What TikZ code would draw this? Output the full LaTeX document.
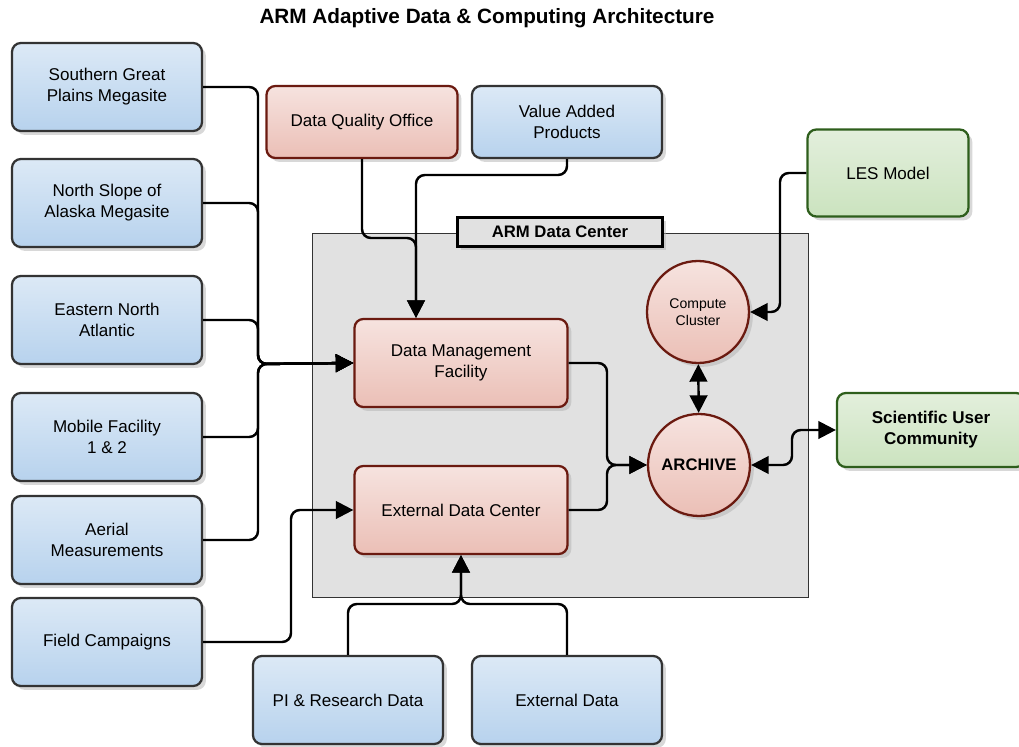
\documentclass[tikz,border=0pt]{standalone}
\usepackage{fontspec}
\setmainfont{Liberation Sans}
\usetikzlibrary{shadows,arrows.meta}
\definecolor{blueTop}{HTML}{DCE9F6}
\definecolor{blueBot}{HTML}{B7D2ED}
\definecolor{redTop}{HTML}{F6E3DF}
\definecolor{redBot}{HTML}{EBBFB6}
\definecolor{redLine}{HTML}{6B1A10}
\definecolor{greenTop}{HTML}{E3EFDC}
\definecolor{greenBot}{HTML}{CBE3BF}
\definecolor{greenLine}{HTML}{2E5E1C}
\definecolor{dcGray}{HTML}{E1E1E1}
\begin{document}
\begin{tikzpicture}[x=0.02cm,y=-0.02cm,
    every node/.style={font=\fontsize{9.7}{11.9}\selectfont,align=center,inner sep=2pt},
    box/.style={draw,line width=1.3pt,rounded corners=5pt,minimum width=3.8cm,minimum height=1.76cm,
        drop shadow={shadow xshift=2.2pt,shadow yshift=-2.2pt,fill=black!30}},
    sitebox/.style={box,draw=black!80,top color=blueTop,bottom color=blueBot},
    facbox/.style={box,draw=redLine,top color=redTop,bottom color=redBot},
    userbox/.style={box,draw=greenLine,top color=greenTop,bottom color=greenBot},
    facnode/.style={circle,draw=redLine,line width=1.3pt,top color=redTop,bottom color=redBot,minimum size=2.04cm,
        drop shadow={shadow xshift=2.2pt,shadow yshift=-2.2pt,fill=black!30}},
    link/.style={line width=1.4pt,rounded corners=5pt},
    arr/.style={link,-{Triangle[length=10pt,width=10pt]}},
    biarr/.style={link,{Triangle[length=10pt,width=10pt]}-{Triangle[length=10pt,width=10pt]}}]
\useasboundingbox (0,0) rectangle (1019,747);

\node[font=\bfseries\fontsize{11.8}{14}\selectfont] (title) at (487,18) {ARM Adaptive Data \& Computing Architecture};

\node[draw=black!80,line width=0.6pt,fill=dcGray,minimum width=9.94cm,minimum height=7.3cm] (dc) at (560.5,415.5) {};
\node[draw,line width=1.5pt,fill=dcGray,minimum width=4.1cm,minimum height=0.58cm,font=\bfseries\fontsize{9.5}{11}\selectfont,
    drop shadow={shadow xshift=2.2pt,shadow yshift=-2.2pt,fill=black!30}] (dclabel) at (560,232) {ARM Data Center};

\node[sitebox] (sgp) at (107,87) {Southern Great\\Plains Megasite};
\node[sitebox] (nsa) at (107,203) {North Slope of\\Alaska Megasite};
\node[sitebox] (ena) at (107,320) {Eastern North\\Atlantic};
\node[sitebox] (mob) at (107,437) {Mobile Facility\\1 \& 2};
\node[sitebox] (aer) at (107,540) {Aerial\\Measurements};
\node[sitebox] (fld) at (107,642) {Field Campaigns};

\node[facbox,minimum width=3.82cm,minimum height=1.44cm] (dqo) at (362,122) {Data Quality Office};
\node[sitebox,minimum height=1.44cm] (vap) at (567,122) {Value Added\\Products};
\node[userbox,minimum width=3.22cm,minimum height=1.74cm] (les) at (888,173) {LES Model};
\node[userbox,minimum width=3.76cm,minimum height=1.48cm,font=\bfseries\fontsize{9.7}{11.9}\selectfont] (suc) at (931,430) {Scientific User\\Community};

\node[facbox,minimum width=4.26cm] (dmf) at (461,363) {Data Management\\Facility};
\node[facbox,minimum width=4.26cm] (edc) at (461,510) {External Data Center};
\node[facnode,font=\fontsize{8}{9.5}\selectfont] (cc) at (698,312) {Compute\\Cluster};
\node[facnode,font=\bfseries\fontsize{9.5}{11}\selectfont] (arc) at (699,465) {ARCHIVE};

\node[sitebox] (pi) at (348,700) {PI \& Research Data};
\node[sitebox] (ext) at (567,700) {External Data};

\coordinate (jn) at (258,364);
\coordinate (fc) at (291,510);
\coordinate (dq) at (416,238);
\coordinate (va) at (416,175);
\coordinate (lc) at (780,173);
\coordinate (ma) at (607,465);
\coordinate (as) at (792,465);
\coordinate (pe) at (461,604);

\foreach \s in {sgp,nsa,ena,mob,aer}
    \draw[arr] (\s.east) -| (jn) -- (dmf.west);
\draw[arr] (fld.east) -| (fc) -- (edc.west);
\draw[arr] (dqo.south) |- (dq) -- (dmf.north -| dq);
\draw[arr] (vap.south) |- (va) -- (dmf.north -| va);
\draw[arr] (les.west) -- (lc) |- (cc.east);
\draw[biarr] (cc) -- (arc);
\draw[arr] (dmf.east) -| (ma) -- (arc.west);
\draw[arr] (edc.east) -| (ma) -- (arc.west);
\draw[biarr] (arc.east) -- (as) |- (suc.west);
\draw[arr] (pi.north) |- (pe) -- (edc.south);
\draw[arr] (ext.north) |- (pe) -- (edc.south);
\end{tikzpicture}
\end{document}
